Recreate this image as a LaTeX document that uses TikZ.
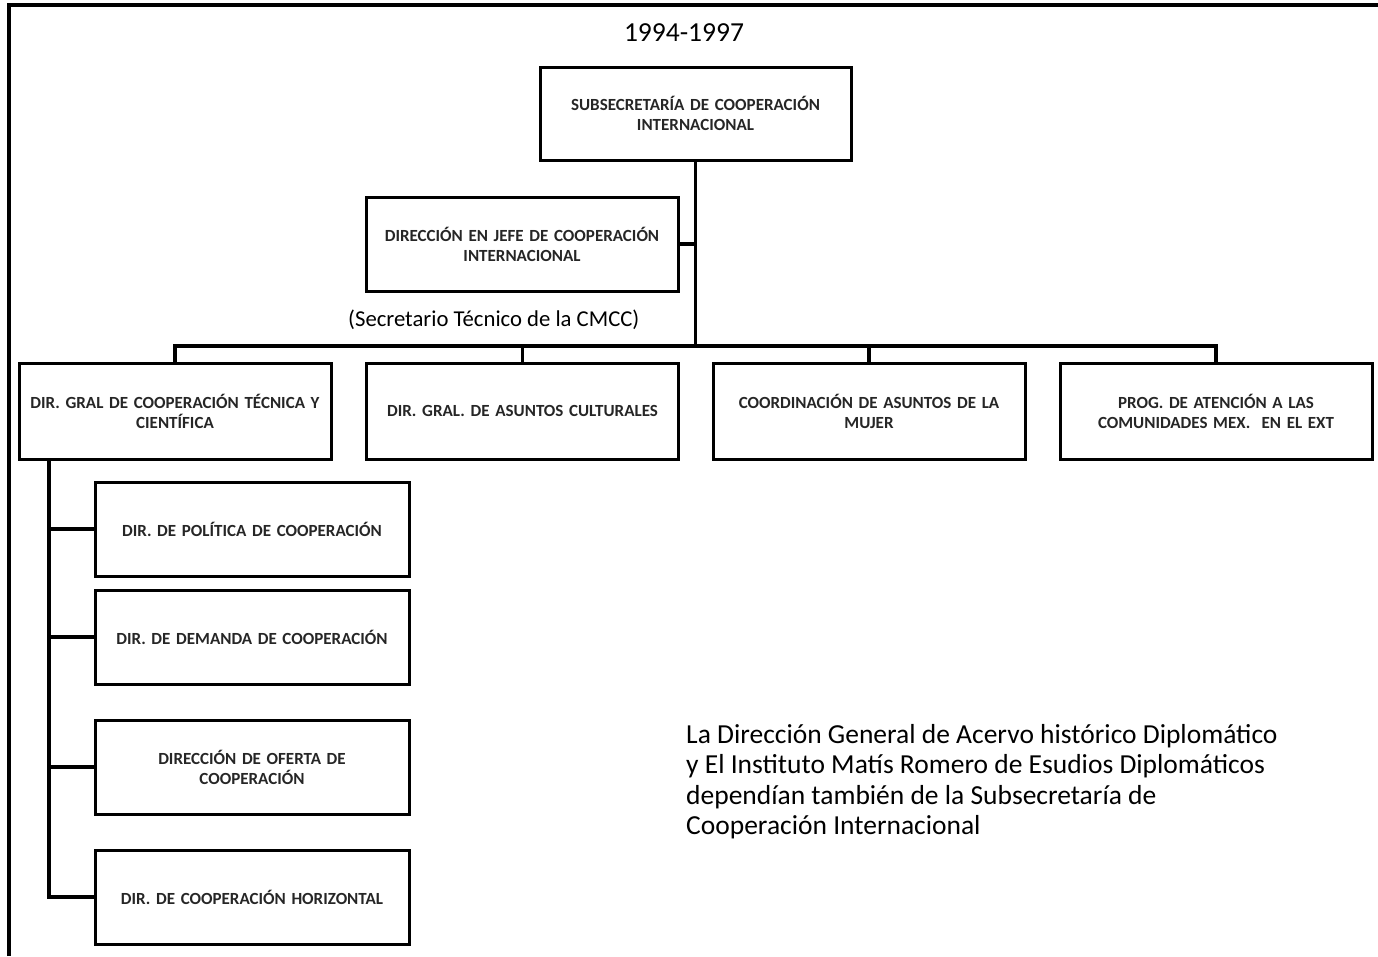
\documentclass[tikz,border=0pt]{standalone}
\usepackage{fontspec}
\setmainfont{Carlito}
\begin{document}
\begin{tikzpicture}[x=1pt,y=-1pt,
  unit/.style={draw, line width=3pt, minimum width=312pt, minimum height=94pt,
    inner sep=2pt, align=center, text width=306pt,
    font=\fontsize{17}{20}\selectfont\bfseries, text=black!85},
  link/.style={line width=3.2pt, line join=miter},
  plain/.style={font=\fontsize{22.7}{30.5}\selectfont, inner sep=0pt},
  big/.style={font=\fontsize{27.5}{30.4}\selectfont, inner sep=0pt}]
\useasboundingbox (0,0) rectangle (1378,956);

% outer frame (top and left edges)
\draw[line width=4.5pt] (9,956) -- (9,5) -- (1378,5);

\node[big] (year) at (684,33) {1994-1997};

% top level
\node[unit, minimum width=311pt, minimum height=93pt] (sub) at (695.5,113.5)
  {SUBSECRETARÍA\ DE COOPERACIÓN\\INTERNACIONAL};
\node[unit] (jefe) at (522,244)
  {DIRECCIÓN EN JEFE DE COOPERACIÓN\\INTERNACIONAL};
\node[plain, anchor=west] (secr) at (348,320) {(Secretario Técnico de la CMCC)};

% second level
\node[unit, minimum height=96pt] (tec) at (175,411)
  {DIR. GRAL DE COOPERACIÓN\ TÉCNICA\ Y\\CIENTÍFICA};
\node[unit, minimum height=96pt] (cul) at (522.5,411)
  {DIR. GRAL. DE ASUNTOS\ CULTURALES};
\node[unit, minimum height=96pt] (muj) at (869,411)
  {COORDINACIÓN DE ASUNTOS\ DE LA\\MUJER};
\node[unit, minimum height=96pt] (ext) at (1216,411)
  {PROG. DE ATENCIÓN\ A LAS\\COMUNIDADES MEX.\ \ EN EL\ EXT};

% third level
\node[unit, minimum width=314pt] (pol) at (252,529) {DIR. DE POLÍTICA DE COOPERACIÓN};
\node[unit, minimum width=314pt] (dem) at (252,637) {DIR. DE DEMANDA DE COOPERACIÓN};
\node[unit, minimum width=314pt] (ofe) at (252,767) {DIRECCIÓN DE OFERTA\ DE\\COOPERACIÓN};
\node[unit, minimum width=314pt] (hor) at (252,897) {DIR. DE COOPERACIÓN\ HORIZONTAL};

% note
\node[big, anchor=north west, align=left] (note) at (686,724)
  {La Dirección General de Acervo histórico Diplomático\\
   y El Instituto Matís Romero de Esudios Diplomáticos\\
   dependían también de la Subsecretaría de\\
   Cooperación Internacional};

% connectors
\coordinate (bus) at (695.5,346);
\coordinate (spine) at (49,459);
\draw[link] (sub.south) -- (bus);
\draw[link] (jefe.east) -- (jefe.east -| sub.south);
\draw[link] (tec.north) |- (bus) -| (ext.north);
\draw[link] (cul.north) -- (cul.north |- bus);
\draw[link] (muj.north) -- (muj.north |- bus);
\draw[link] (spine) |- (hor.west);
\draw[link] (pol.west) -- (pol.west -| spine);
\draw[link] (dem.west) -- (dem.west -| spine);
\draw[link] (ofe.west) -- (ofe.west -| spine);
\end{tikzpicture}
\end{document}
